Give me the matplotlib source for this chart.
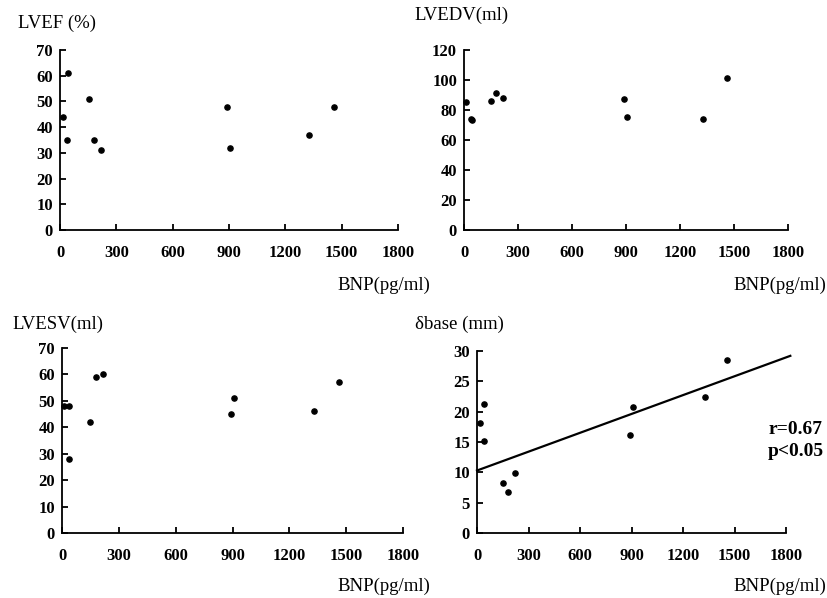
import numpy as np
import matplotlib
matplotlib.use("Agg")
import matplotlib.pyplot as plt

plt.rcParams['font.family'] = ['Liberation Serif', 'DejaVu Serif']

# --- data ---
bnp_ef = [18, 44, 39, 153, 183, 220, 890, 904, 1327, 1458]
lvef = [44, 61, 35, 51, 35, 31, 48, 32, 37, 48]

bnp_edv = [13, 37, 42, 150, 179, 216, 890, 906, 1328, 1459]
lvedv = [85, 74, 73, 86, 91, 88, 87, 75, 74, 101]

bnp_esv = [9, 35, 39, 149, 179, 218, 890, 906, 1329, 1461]
lvesv = [48, 48, 28, 42, 59, 60, 45, 51, 46, 57]

bnp_base = [16, 41, 39, 151, 183, 219, 891, 907, 1330, 1458]
dbase = [18.1, 21.3, 15.1, 8.2, 6.7, 9.9, 16.2, 20.8, 22.4, 28.5]

# regression line as drawn (intercept, slope) and its x extent
fit_coef = (10.3, 0.01036)
fit_x = [0, 1825]

x_ticks = [0, 300, 600, 900, 1200, 1500, 1800]

panels = [
    # (x, y, ylabel, ymax, ystep, rect)
    (bnp_ef, lvef, 'LVEF (%)', 70, 10, [0.0725, 0.6154, 0.4082, 0.3010]),
    (bnp_edv, lvedv, 'LVEDV(ml)', 120, 20, [0.5604, 0.6154, 0.3913, 0.3010]),
    (bnp_esv, lvesv, 'LVESV(ml)', 70, 10, [0.0749, 0.1087, 0.4118, 0.3094]),
    (bnp_base, dbase, '\u03b4base (mm)', 30, 5, [0.5761, 0.1087, 0.3732, 0.3043]),
]

fig = plt.figure(figsize=(8.28, 5.98), dpi=100)
axes = []
for xs, ys, ylab, ymax, ystep, rect in panels:
    ax = fig.add_axes(rect)
    ax.scatter(xs, ys, s=14, color='black', zorder=3, clip_on=False)
    ax.set_xlim(0, 1800)
    ax.set_ylim(0, ymax)
    ax.set_xticks(x_ticks)
    ax.set_yticks(np.arange(0, ymax + 1, ystep))
    for s in ['top', 'right']:
        ax.spines[s].set_visible(False)
    for s in ['left', 'bottom']:
        ax.spines[s].set_linewidth(1.3)
    ax.tick_params(direction='in', length=4, width=1.3, labelsize=12)
    ax.tick_params(axis='x', pad=11)
    ax.tick_params(axis='y', pad=5)
    for lab in ax.get_xticklabels() + ax.get_yticklabels():
        lab.set_fontweight('bold')
    axes.append(ax)

# y-axis titles (top-left of each panel) and x-axis titles (bottom-right)
title_pos = [(18, 23), (414, 15), (12, 324), (415, 324)]
bnp_pos = [(430, 285), (826, 285), (430, 586), (826, 586)]
W, H = 828, 598
for (xs, ys, ylab, *_), (tx, ty), (bx, by) in zip(panels, title_pos, bnp_pos):
    fig.text(tx / W, 1 - ty / H, ylab, fontsize=13.5, ha='left', va='center')
    fig.text(bx / W, 1 - by / H, 'BNP(pg/ml)', fontsize=13.5, ha='right', va='center')

# regression line on the delta-base panel
ax4 = axes[3]
fx = np.array(fit_x)
ax4.plot(fx, fit_coef[0] + fit_coef[1] * fx, color='black', lw=1.6, clip_on=False)
ax4.text(0.942, 0.51, 'r=0.67\np<0.05', transform=ax4.transAxes, fontsize=14,
         fontweight='bold', ha='left', va='center', linespacing=1.4)

fig.savefig('out.png', dpi=100)
